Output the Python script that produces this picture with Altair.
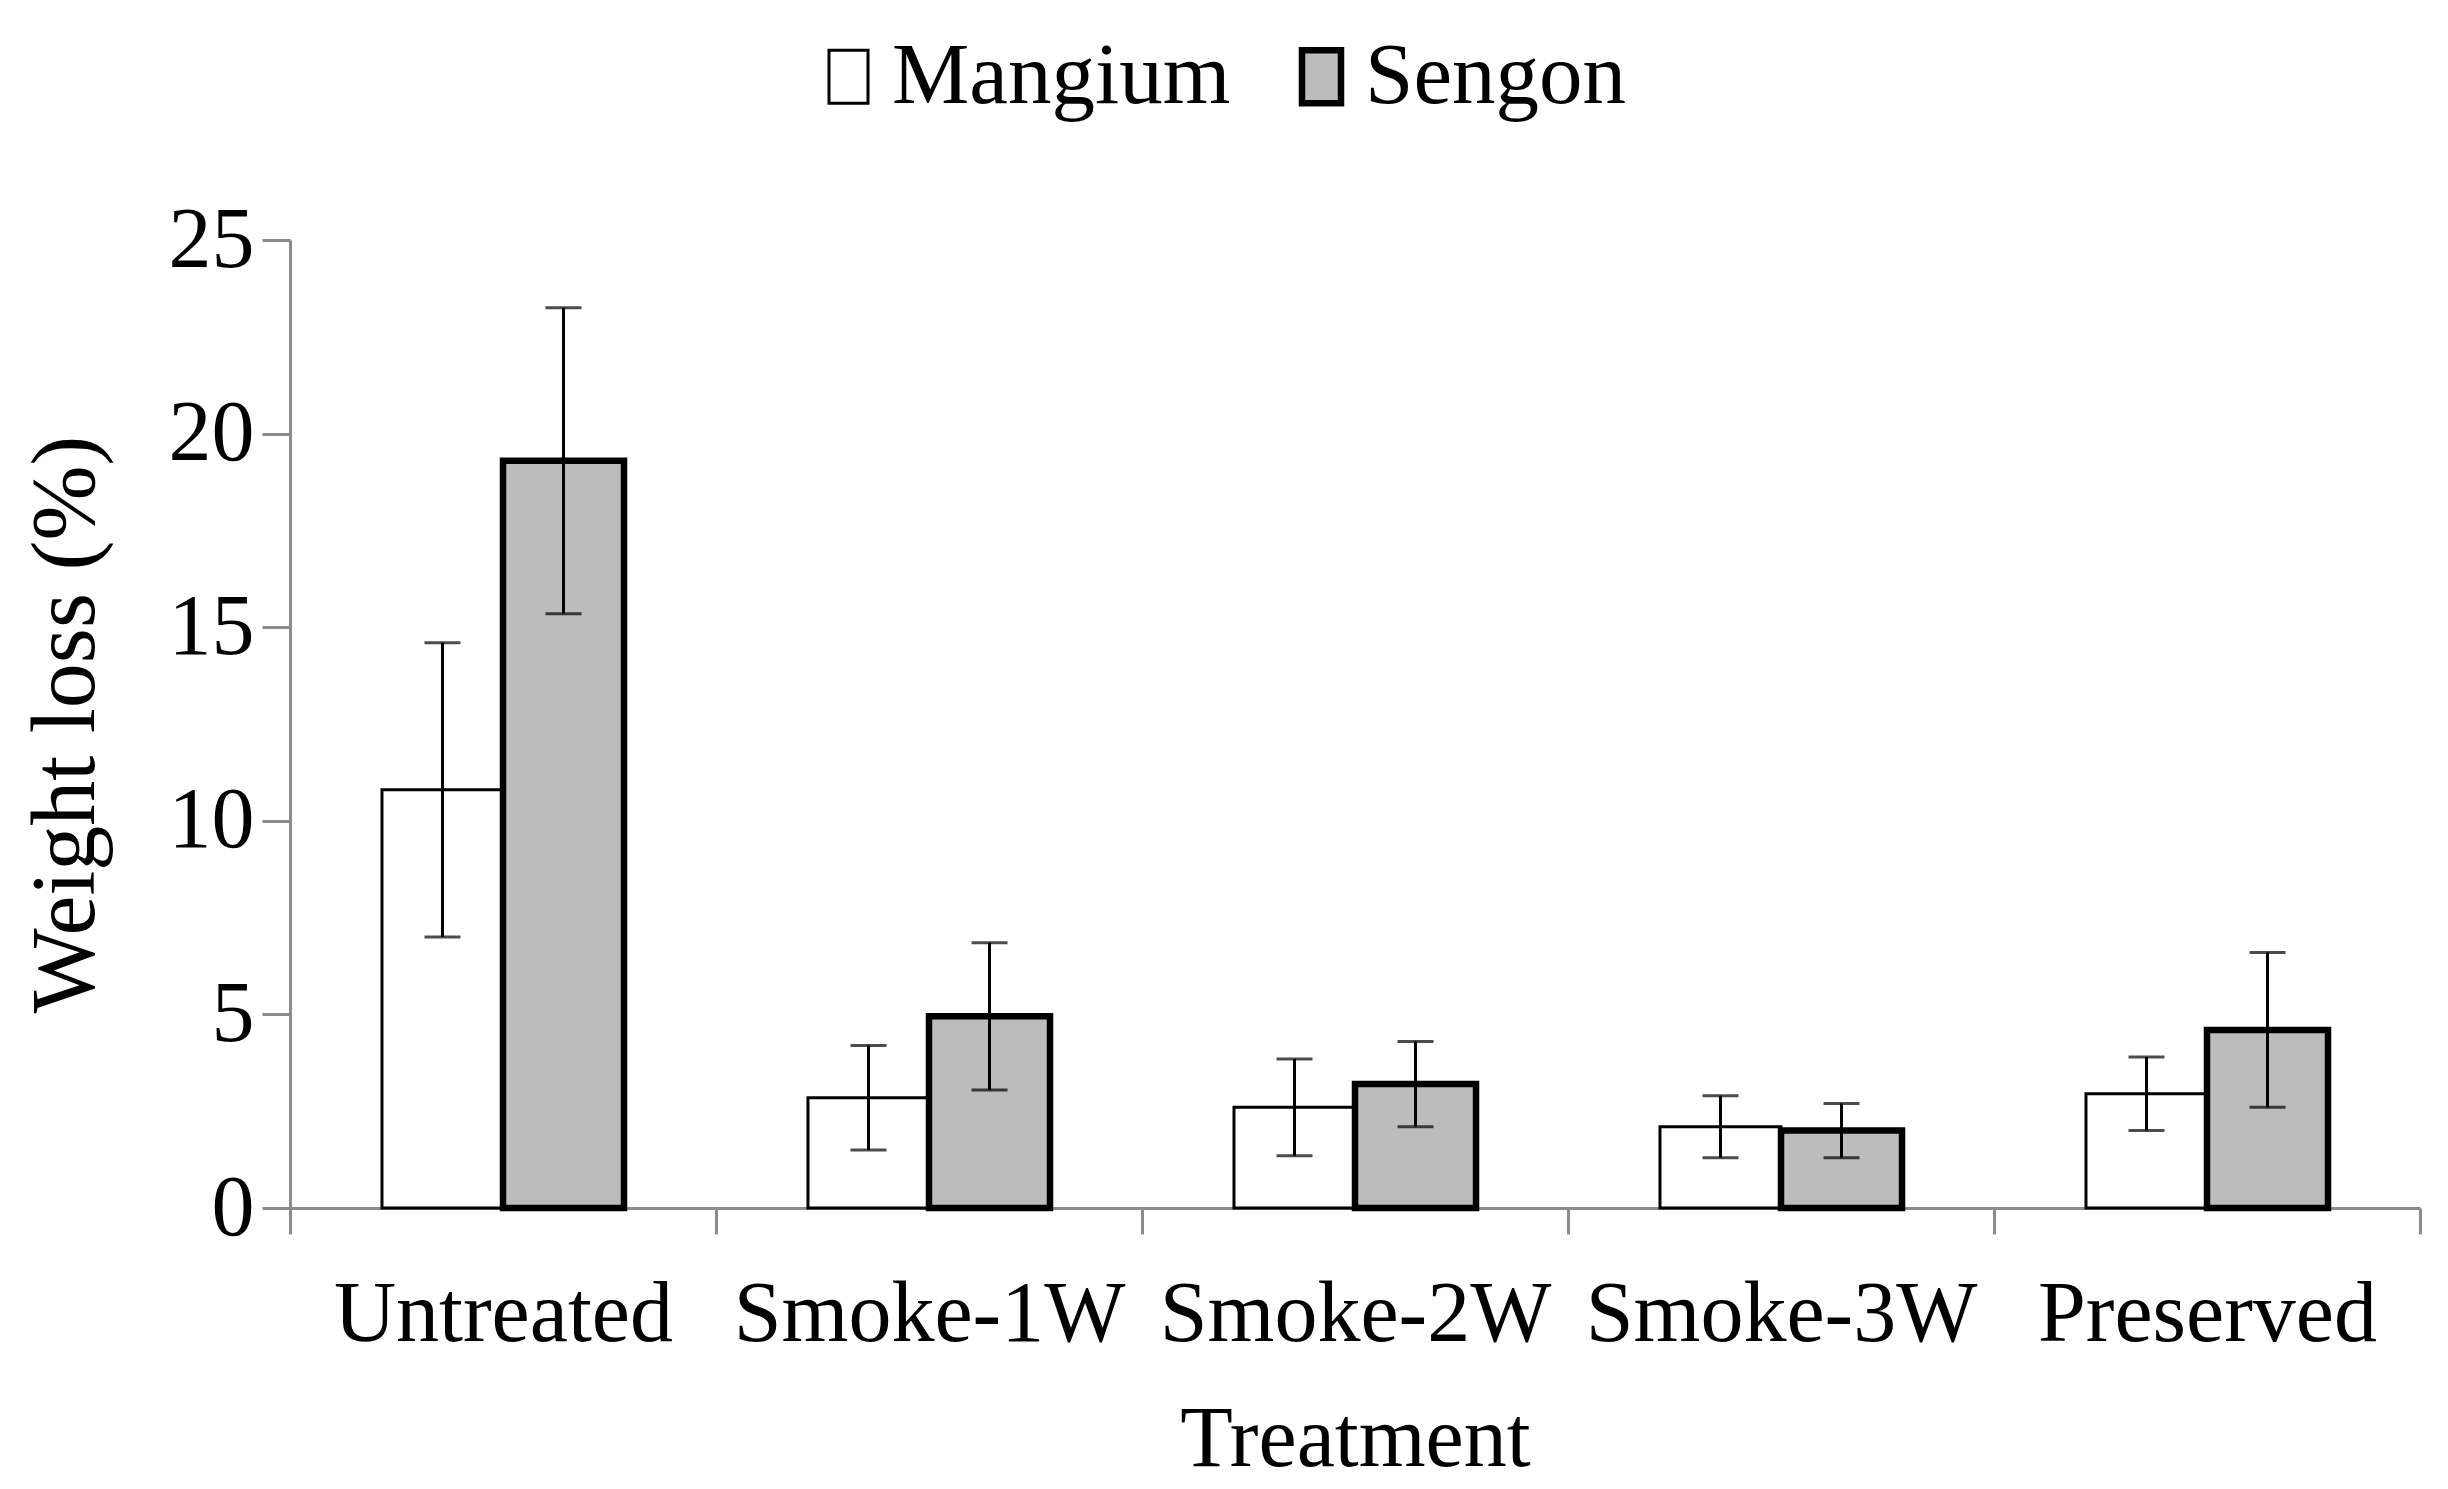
import altair as alt
import pandas as pd

categories = ["Untreated", "Smoke-1W", "Smoke-2W", "Smoke-3W", "Preserved"]
species = ["Mangium", "Sengon"]
mangium = [10.8, 2.85, 2.6, 2.1, 2.95]
mangium_err = [3.8, 1.35, 1.25, 0.8, 0.95]
sengon = [19.3, 4.95, 3.2, 2.0, 4.6]
sengon_err = [3.95, 1.9, 1.1, 0.7, 2.0]

rows = []
for i, c in enumerate(categories):
    rows.append({"treatment": c, "species": "Mangium", "value": mangium[i],
                 "lo": mangium[i] - mangium_err[i], "hi": mangium[i] + mangium_err[i]})
    rows.append({"treatment": c, "species": "Sengon", "value": sengon[i],
                 "lo": sengon[i] - sengon_err[i], "hi": sengon[i] + sengon_err[i]})
df = pd.DataFrame(rows)

FONT = "Liberation Serif"
FS = 86
GREY = "#8c8c8c"

x_enc = alt.X("treatment:N", sort=categories,
              scale=alt.Scale(paddingInner=0, paddingOuter=0),
              axis=alt.Axis(title="Treatment", tickBand="extent", tickSize=26,
                            labelPadding=106, labelBaseline="alphabetic", labelAngle=0,
                            labelLimit=0,
                            labelFont=FONT, labelFontSize=FS, labelColor="black",
                            domainColor=GREY, domainWidth=3, tickColor=GREY, tickWidth=3,
                            titleFont=FONT, titleFontSize=FS, titleFontWeight="normal",
                            titleColor="black", titleX=1065, titleY=257,
                            titleBaseline="alphabetic", titleAlign="center"))
xo_enc = alt.XOffset("species:N", sort=species,
                     scale=alt.Scale(paddingInner=0, paddingOuter=0.76))

y_scale = alt.Scale(domain=[0, 25], nice=False, zero=True)
y_axis = alt.Axis(title="Weight loss (%)", values=[0, 5, 10, 15, 20, 25], tickSize=28,
                  labelPadding=8, labelFont=FONT, labelFontSize=FS, labelColor="black",
                  domainColor=GREY, domainWidth=3, tickColor=GREY, tickWidth=3, grid=False,
                  titleFont=FONT, titleFontSize=90, titleFontWeight="normal", titleColor="black",
                  titleX=-224, titleY=484, titleAngle=270, titleBaseline="middle",
                  titleAlign="center")


def leg():
    return alt.Legend(title=None, orient="none", legendX=515, legendY=-207,
                      direction="horizontal",
                      symbolType="M-1,-1.36H1V1.36H-1Z", symbolSize=1521,
                      labelFont=FONT, labelFontSize=87, labelColor="black",
                      labelLimit=0, labelOffset=0, columnPadding=47)


base = alt.Chart(df).encode(x=x_enc, xOffset=xo_enc)

bars = base.mark_bar().encode(
    y=alt.Y("value:Q", scale=y_scale, axis=y_axis),
    fill=alt.Fill("species:N", sort=species,
                  scale=alt.Scale(domain=species, range=["white", "#bcbcbc"]),
                  legend=leg()),
    stroke=alt.Stroke("species:N", sort=species,
                      scale=alt.Scale(domain=species, range=["black", "black"]),
                      legend=leg()),
    strokeWidth=alt.StrokeWidth("species:N", sort=species,
                                scale=alt.Scale(domain=species, range=[3, 6.5]),
                                legend=leg()),
)

rules = base.mark_rule(color="black", strokeWidth=3).encode(
    y=alt.Y("lo:Q", scale=y_scale), y2="hi:Q")
caps_lo = base.mark_tick(color="black", size=36, thickness=3).encode(
    y=alt.Y("lo:Q", scale=y_scale))
caps_hi = base.mark_tick(color="black", size=36, thickness=3).encode(
    y=alt.Y("hi:Q", scale=y_scale))

chart = alt.layer(bars, rules, caps_lo, caps_hi).properties(
    width=2130, height=968,
    background="white",
    autosize=alt.AutoSizeParams(type="none"),
    padding={"left": 282, "top": 232, "right": 20, "bottom": 275},
).configure_view(strokeWidth=0, stroke=None)

chart.save("out.html", embed_options={"renderer": "svg", "actions": False})
